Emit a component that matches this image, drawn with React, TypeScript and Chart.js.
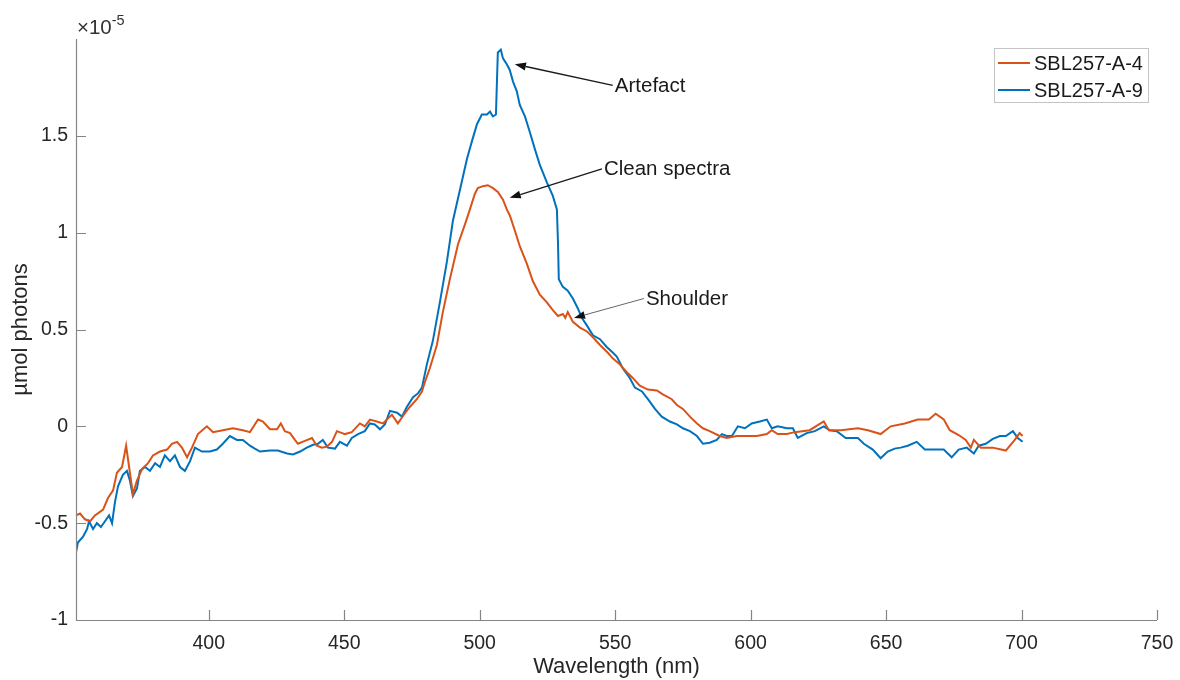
import React, { useEffect, useRef } from "react";
import { Chart, registerables } from "chart.js";

Chart.register(...registerables);

// ---- Data (values in units of 1e-5 µmol photons) ----
const seriesNames = ["SBL257-A-4", "SBL257-A-9"];
const seriesColors = ["#D95319", "#0072BD"];

const wavelengthA4 = [
  351, 352.5, 354.3, 356.2, 358, 361, 362.8, 364.7, 366.1, 368,
  369.5, 370.2, 372, 373.5, 375.4, 377.6, 379.4, 382, 384.6, 386.4,
  388.3, 390.1, 392, 393.8, 396, 399.3, 401.6, 405.2, 408.9, 412.6,
  415.2, 418.2, 420, 422.6, 425.2, 426.6, 428.1, 430, 431.8, 432.9,
  435.5, 438.1, 439.9, 441.8, 443.6, 445.5, 447.3, 450.3, 452.8, 455.8,
  457.6, 459.5, 462, 464.3, 466.1, 467.6, 469.8, 472, 474.2, 476.8,
  478.7, 479.8, 481.6, 484.2, 486.4, 489, 492, 494.5, 496.4, 498.2,
  499.3, 501.2, 503, 504.9, 506.7, 508.6, 510, 511.1, 513, 514.8,
  517.4, 519.6, 522.2, 524.8, 527, 528.9, 530.7, 531.6, 532.5, 534.4,
  537, 539.6, 541.8, 544.4, 547.3, 549.2, 551.7, 554.3, 556.5, 559.1,
  562.1, 565.4, 567.6, 570.9, 572.8, 575, 577.6, 580.2, 582.4, 584.9,
  588.6, 591.2, 594.9, 598.6, 602.3, 606, 607.8, 610, 613.4, 616.3,
  621.8, 627, 628.9, 633.3, 639.6, 643.3, 648, 651.7, 656.9, 661.7,
  665.8, 668.3, 671.3, 673.5, 676.8, 679.4, 681.3, 682.4, 685, 689.4,
  694.2, 697.5, 699.3, 700.4,
];
const valuesA4 = [
  -0.46, -0.45, -0.48, -0.49, -0.46, -0.43, -0.37, -0.33, -0.24, -0.21,
  -0.1, -0.17, -0.35, -0.28, -0.22, -0.19, -0.15, -0.13, -0.12, -0.09,
  -0.08, -0.11, -0.16, -0.11, -0.04, 0.0, -0.03, -0.02, -0.01, -0.02,
  -0.03, 0.035, 0.025, -0.015, -0.015, 0.015, -0.025, -0.035, -0.07, -0.09,
  -0.075, -0.06, -0.1, -0.11, -0.105, -0.08, -0.025, -0.04, -0.03, 0.015,
  0.0, 0.035, 0.025, 0.015, 0.04, 0.06, 0.015, 0.06, 0.1, 0.14,
  0.18, 0.23, 0.3, 0.42, 0.59, 0.76, 0.94, 1.04, 1.12, 1.2,
  1.23, 1.24, 1.245, 1.23, 1.21, 1.17, 1.12, 1.09, 1.01, 0.93,
  0.84, 0.75, 0.68, 0.64, 0.6, 0.57, 0.58, 0.56, 0.59, 0.54,
  0.51, 0.49, 0.46, 0.42, 0.38, 0.35, 0.32, 0.28, 0.25, 0.21,
  0.19, 0.185, 0.165, 0.14, 0.11, 0.09, 0.05, 0.015, -0.01, -0.025,
  -0.05, -0.06, -0.05, -0.05, -0.05, -0.04, -0.02, -0.04, -0.04, -0.03,
  -0.02, 0.025, -0.02, -0.02, -0.01, -0.02, -0.04, 0.0, 0.015, 0.035,
  0.035, 0.065, 0.035, -0.02, -0.045, -0.07, -0.11, -0.07, -0.11, -0.11,
  -0.125, -0.07, -0.035, -0.05,
];

const wavelengthA9 = [
  351, 351.7, 353.6, 355.1, 355.8, 357.3, 358.7, 360.2, 361.7, 363.2,
  364.3, 365.4, 366.5, 368.3, 369.8, 370.9, 372, 373.5, 374.6, 376.5,
  378.3, 380.2, 382, 383.8, 385.7, 387.5, 389.4, 391.2, 393.1, 394.9,
  397.5, 400.4, 403, 405.2, 407.8, 410.4, 412.6, 415.2, 417, 418.9,
  422.6, 425.5, 428.9, 431.1, 433.7, 436.2, 438.5, 440.3, 442.1, 444,
  446.6, 448.4, 451, 452.8, 455.1, 457.6, 459.5, 461.3, 463.2, 465,
  466.9, 469.5, 471.3, 473.1, 475.4, 477.2, 478.7, 480.5, 482.7, 485.3,
  487.9, 490.1, 492.7, 495.3, 497.1, 499, 500.8, 502.7, 503.8, 504.9,
  506, 506.7, 507.8, 508.6, 510, 511.1, 512.3, 513.7, 514.8, 516.7,
  518.5, 520.4, 522.2, 524.8, 527, 528.5, 528.9, 529.2, 530.7, 532.5,
  534.4, 536.2, 537.7, 539.6, 541.8, 544.4, 546.9, 549.2, 550.6, 552.8,
  555.4, 557.3, 559.9, 562.1, 564.7, 567.2, 570.2, 572.8, 575, 577.6,
  580.2, 582.4, 584.9, 587.5, 589.4, 591.2, 593.1, 595.3, 597.9, 600.4,
  603.4, 606, 607.8, 610, 613.4, 615.6, 617.4, 620.7, 623.7, 627,
  629.2, 631.8, 635.1, 639.6, 641.8, 645.1, 648, 650.6, 653.2, 655.4,
  658, 661.3, 664.3, 668, 671.3, 674.2, 676.8, 679.8, 682.4, 684.2,
  686.8, 689.4, 692, 694.2, 696.8, 698.6, 700.4,
];
const valuesA9 = [
  -0.65, -0.6, -0.57, -0.53, -0.49, -0.53, -0.5, -0.52, -0.49, -0.46,
  -0.5, -0.39, -0.31, -0.25, -0.23, -0.28, -0.36, -0.32, -0.23, -0.21,
  -0.23, -0.19, -0.21, -0.15, -0.18, -0.15, -0.21, -0.23, -0.18, -0.11,
  -0.13, -0.13, -0.12, -0.09, -0.05, -0.07, -0.07, -0.1, -0.115, -0.13,
  -0.125, -0.125, -0.14, -0.145, -0.13, -0.11, -0.095, -0.09, -0.07, -0.11,
  -0.115, -0.08, -0.1, -0.06, -0.04, -0.025, 0.015, 0.01, -0.015, 0.01,
  0.08, 0.07, 0.05, 0.1, 0.15, 0.17, 0.2, 0.32, 0.44, 0.64,
  0.85, 1.06, 1.22, 1.38, 1.47, 1.56, 1.61, 1.61, 1.625, 1.6,
  1.61, 1.93, 1.945, 1.9, 1.87, 1.84, 1.78, 1.73, 1.66, 1.6,
  1.52, 1.43, 1.35, 1.26, 1.19, 1.12, 0.95, 0.76, 0.72, 0.7,
  0.66, 0.61, 0.56, 0.52, 0.47, 0.45, 0.41, 0.38, 0.36, 0.3,
  0.25, 0.2, 0.18, 0.14, 0.09, 0.05, 0.025, 0.01, -0.01, -0.025,
  -0.05, -0.09, -0.085, -0.07, -0.04, -0.05, -0.05, 0.0, -0.01, 0.015,
  0.025, 0.035, -0.01, 0.0, -0.01, -0.01, -0.06, -0.035, -0.025, 0.0,
  -0.02, -0.025, -0.06, -0.06, -0.09, -0.12, -0.165, -0.13, -0.115, -0.11,
  -0.1, -0.08, -0.12, -0.12, -0.12, -0.16, -0.12, -0.11, -0.14, -0.1,
  -0.09, -0.065, -0.05, -0.05, -0.025, -0.06, -0.08,
];

const xTicks = [400, 450, 500, 550, 600, 650, 700, 750];
const yTicks = [-1, -0.5, 0, 0.5, 1, 1.5];
const xLabel = "Wavelength (nm)";
const yLabel = "µmol photons";

// annotation: text anchor (data) and arrow head (data)
const annotationLabels = ["Artefact", "Clean spectra", "Shoulder"];
const annotationTextX = [549.5, 545.5, 561.0];
const annotationTextY = [1.76, 1.33, 0.66];
const annotationHeadX = [513.0, 511.1, 534.8];
const annotationHeadY = [1.87, 1.18, 0.56];

const FONT = "'Liberation Sans', Arial, Helvetica, sans-serif";

function toPoints(xs: number[], ys: number[]) {
  return xs.map((x, i) => ({ x, y: ys[i] }));
}

const overlayPlugin = {
  id: "overlay",
  afterDraw(chart: any) {
    const { ctx, chartArea: a, scales } = chart;
    const xs = scales.x;
    const ys = scales.y;
    ctx.save();

    // axes lines
    ctx.strokeStyle = "#858585";
    ctx.lineWidth = 1.2;
    ctx.beginPath();
    ctx.moveTo(a.left + 0.5, a.top);
    ctx.lineTo(a.left + 0.5, a.bottom + 0.5);
    ctx.lineTo(a.right, a.bottom + 0.5);
    ctx.stroke();

    // inward ticks
    ctx.beginPath();
    xTicks.forEach((v) => {
      const px = Math.round(xs.getPixelForValue(v)) + 0.5;
      ctx.moveTo(px, a.bottom);
      ctx.lineTo(px, a.bottom - 10);
    });
    yTicks.forEach((v) => {
      const py = Math.round(ys.getPixelForValue(v)) + 0.5;
      ctx.moveTo(a.left, py);
      ctx.lineTo(a.left + 10, py);
    });
    ctx.stroke();

    // exponent label
    ctx.fillStyle = "#333333";
    ctx.textBaseline = "alphabetic";
    ctx.textAlign = "left";
    ctx.font = `20.5px ${FONT}`;
    const base = "×10";
    ctx.fillText(base, a.left + 1, 34);
    const w = ctx.measureText(base).width;
    ctx.font = `14.5px ${FONT}`;
    ctx.fillText("-5", a.left + 1 + w, 25);

    // annotations
    for (let i = 0; i < annotationLabels.length; i++) {
      const tx = xs.getPixelForValue(annotationTextX[i]);
      const ty = ys.getPixelForValue(annotationTextY[i]);
      const hx = xs.getPixelForValue(annotationHeadX[i]);
      const hy = ys.getPixelForValue(annotationHeadY[i]);
      const thin = i === 2;
      ctx.strokeStyle = thin ? "#555555" : "#1a1a1a";
      ctx.fillStyle = "#111111";
      ctx.lineWidth = thin ? 0.9 : 1.3;
      const ang = Math.atan2(hy - ty, hx - tx);
      const len = 11;
      const hw = 4;
      const bx = hx - len * Math.cos(ang);
      const by = hy - len * Math.sin(ang);
      ctx.beginPath();
      ctx.moveTo(tx - 1, ty);
      ctx.lineTo(bx, by);
      ctx.stroke();
      ctx.beginPath();
      ctx.moveTo(hx, hy);
      ctx.lineTo(bx + hw * Math.sin(ang), by - hw * Math.cos(ang));
      ctx.lineTo(bx - hw * Math.sin(ang), by + hw * Math.cos(ang));
      ctx.closePath();
      ctx.fill();
      ctx.fillStyle = "#1a1a1a";
      ctx.font = `20.5px ${FONT}`;
      ctx.textBaseline = "middle";
      ctx.textAlign = "left";
      ctx.fillText(annotationLabels[i], tx + 1, ty + 1);
    }

    // legend
    const lx = 994.5, ly = 48.5, lw = 154, lh = 54;
    ctx.fillStyle = "#ffffff";
    ctx.fillRect(lx, ly, lw, lh);
    ctx.strokeStyle = "#c4c4c4";
    ctx.lineWidth = 1;
    ctx.strokeRect(lx, ly, lw, lh);
    const rows = [63, 90];
    seriesNames.forEach((name, i) => {
      ctx.strokeStyle = seriesColors[i];
      ctx.lineWidth = 2;
      ctx.beginPath();
      ctx.moveTo(998, rows[i]);
      ctx.lineTo(1030, rows[i]);
      ctx.stroke();
      ctx.fillStyle = "#1a1a1a";
      ctx.font = `20px ${FONT}`;
      ctx.textBaseline = "middle";
      ctx.textAlign = "left";
      ctx.fillText(name, 1034, rows[i] + 1);
    });

    ctx.restore();
  },
};

export default function App() {
  const canvasRef = useRef<HTMLCanvasElement | null>(null);

  useEffect(() => {
    if (!canvasRef.current) return;
    const chart = new Chart(canvasRef.current, {
      type: "scatter",
      data: {
        datasets: [
          {
            label: seriesNames[0],
            data: toPoints(wavelengthA4, valuesA4),
            showLine: true,
            borderColor: seriesColors[0],
            backgroundColor: seriesColors[0],
            borderWidth: 2,
            pointRadius: 0,
            tension: 0,
          },
          {
            label: seriesNames[1],
            data: toPoints(wavelengthA9, valuesA9),
            showLine: true,
            borderColor: seriesColors[1],
            backgroundColor: seriesColors[1],
            borderWidth: 2,
            pointRadius: 0,
            tension: 0,
          },
        ],
      },
      options: {
        animation: false,
        responsive: false,
        maintainAspectRatio: false,
        layout: { padding: { left: 0, top: 39, right: 23, bottom: 0 } },
        plugins: { legend: { display: false }, tooltip: { enabled: false } },
        scales: {
          x: {
            type: "linear",
            min: 351,
            max: 750,
            grid: { display: false, drawTicks: false },
            border: { display: false },
            afterBuildTicks: (scale: any) => {
              scale.ticks = xTicks.map((v) => ({ value: v }));
            },
            afterFit: (scale: any) => {
              scale.height = 60;
              scale.paddingLeft = 0;
              scale.paddingRight = 0;
            },
            ticks: {
              autoSkip: false,
              maxRotation: 0,
              padding: 12,
              color: "#262626",
              font: { family: FONT, size: 19.5 },
              callback: (v: any) => String(v),
            },
            title: {
              display: true,
              text: xLabel,
              color: "#262626",
              font: { family: FONT, size: 22 },
              padding: { top: 0, bottom: 0 },
            },
          },
          y: {
            type: "linear",
            min: -1,
            max: 2,
            grid: { display: false, drawTicks: false },
            border: { display: false },
            afterBuildTicks: (scale: any) => {
              scale.ticks = yTicks.map((v) => ({ value: v }));
            },
            afterFit: (scale: any) => {
              scale.width = 76;
              scale.paddingTop = 0;
              scale.paddingBottom = 0;
            },
            ticks: {
              padding: 8,
              color: "#262626",
              font: { family: FONT, size: 19.5 },
              callback: (v: any) => String(v),
            },
            title: {
              display: true,
              text: yLabel,
              color: "#262626",
              font: { family: FONT, size: 22 },
              padding: { top: 8, bottom: 0 },
            },
          },
        },
      },
      plugins: [overlayPlugin],
    } as any);
    return () => chart.destroy();
  }, []);

  return (
    <div
      style={{
        position: "absolute",
        left: 0,
        top: 0,
        width: 1180,
        height: 680,
        background: "#ffffff",
      }}
    >
      <canvas ref={canvasRef} width={1180} height={680} />
    </div>
  );
}
